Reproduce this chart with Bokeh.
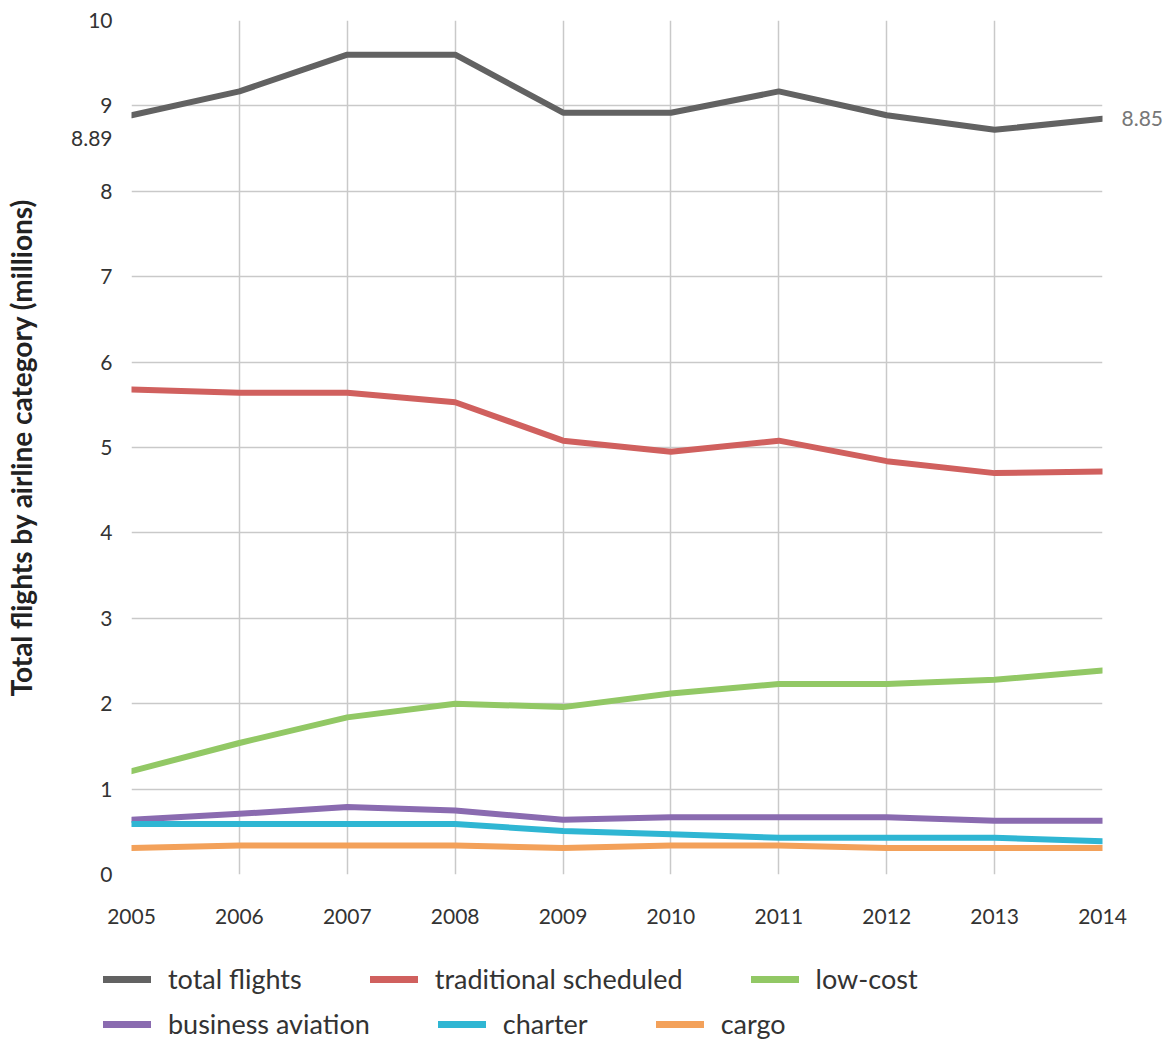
from bokeh.plotting import figure
from bokeh.models import Range1d, FixedTicker, Legend, LegendItem, LinearAxis
from bokeh.layouts import column
from bokeh.embed import file_html
from bokeh.resources import INLINE

years = [2005, 2006, 2007, 2008, 2009, 2010, 2011, 2012, 2013, 2014]
total_flights = [8.89, 9.17, 9.60, 9.60, 8.92, 8.92, 9.17, 8.89, 8.72, 8.85]
traditional = [5.68, 5.64, 5.64, 5.53, 5.08, 4.95, 5.08, 4.84, 4.70, 4.72]
low_cost = [1.21, 1.54, 1.84, 2.00, 1.96, 2.12, 2.23, 2.23, 2.28, 2.39]
business = [0.64, 0.71, 0.79, 0.75, 0.64, 0.67, 0.67, 0.67, 0.63, 0.63]
charter = [0.59, 0.59, 0.59, 0.59, 0.51, 0.47, 0.43, 0.43, 0.43, 0.39]
cargo = [0.31, 0.34, 0.34, 0.34, 0.31, 0.34, 0.34, 0.31, 0.31, 0.31]
y_ticks = [0, 1, 2, 3, 4, 5, 6, 7, 8, 9, 10]

series = [
    ("total flights", total_flights, "#626262"),
    ("traditional scheduled", traditional, "#d0605e"),
    ("low-cost", low_cost, "#92c865"),
    ("business aviation", business, "#8a6bb0"),
    ("charter", charter, "#2fb6d3"),
    ("cargo", cargo, "#f3a15a"),
]

FONT = "Lato"

p = figure(width=1173, height=935, output_backend="svg", toolbar_location=None,
           x_range=Range1d(2005, 2014), y_range=Range1d(0, 10),
           min_border_left=131, min_border_right=71, min_border_top=20,
           min_border_bottom=61)
p.outline_line_color = None
p.background_fill_color = "white"
p.border_fill_color = "white"

for ax in (p.xaxis[0], p.yaxis[0]):
    ax.axis_line_color = None
    ax.major_tick_line_color = None
    ax.minor_tick_line_color = None
    ax.major_label_text_font = FONT
    ax.major_label_text_font_size = "21px"
    ax.major_label_text_color = "#333333"

# start-value label of the total series sits just under the "9" tick
start_label_pos = total_flights[0] - 0.27
p.xaxis.ticker = FixedTicker(ticks=years)
p.yaxis.ticker = FixedTicker(ticks=y_ticks + [start_label_pos])
p.yaxis.major_label_overrides = {start_label_pos: f"{total_flights[0]:.2f}"}
p.xgrid.ticker = FixedTicker(ticks=years)
p.ygrid.ticker = FixedTicker(ticks=y_ticks)
p.xaxis.major_label_standoff = 28
p.yaxis.major_label_standoff = 13

p.yaxis.axis_label = "Total flights by airline category (millions)"
p.yaxis.axis_label_text_font = FONT
p.yaxis.axis_label_text_font_style = "bold"
p.yaxis.axis_label_text_font_size = "28px"
p.yaxis.axis_label_text_color = "#222222"
p.yaxis.axis_label_standoff = 30

# end-value label on the right
right_ax = LinearAxis(ticker=FixedTicker(ticks=[total_flights[-1]]),
                      major_label_overrides={total_flights[-1]: f"{total_flights[-1]:.2f}"})
right_ax.axis_line_color = None
right_ax.major_tick_line_color = None
right_ax.minor_tick_line_color = None
right_ax.major_label_text_font = FONT
right_ax.major_label_text_font_size = "21px"
right_ax.major_label_text_color = "#777777"
right_ax.major_label_standoff = 13
p.add_layout(right_ax, "right")

p.xgrid.grid_line_color = "#c9c9c9"
p.ygrid.grid_line_color = "#c9c9c9"
p.xgrid.grid_line_width = 1.5
p.ygrid.grid_line_width = 1.5

for name, vals, col in series:
    p.line(years, vals, line_color=col, line_width=6, line_join="round", line_cap="round")

# legend strip below the chart (its lines lie outside its ranges; only swatches show)
leg = figure(width=1173, height=113, output_backend="svg", toolbar_location=None,
             x_range=Range1d(0, 1), y_range=Range1d(0, 1),
             x_axis_location=None, y_axis_location=None,
             min_border_left=0, min_border_right=0, min_border_top=0, min_border_bottom=0)
leg.frame_align = False
leg.outline_line_color = None
leg.xgrid.visible = False
leg.ygrid.visible = False
leg.background_fill_color = "white"
leg.border_fill_color = "white"

leg_renderers = []
for name, vals, col in series:
    r = leg.line(years, vals, line_color=col, line_width=7, line_cap="round")
    leg_renderers.append((name, r))

rows = [(leg_renderers[:3], (103, 53)), (leg_renderers[3:], (103, 8))]
for items, loc in rows:
    lg = Legend(items=[LegendItem(label=n, renderers=[r]) for n, r in items],
                orientation="horizontal", location=loc,
                background_fill_alpha=0, border_line_color=None,
                padding=0, margin=0, spacing=68, label_standoff=17,
                glyph_width=48, glyph_height=20, label_height=20,
                label_text_font=FONT, label_text_font_size="27px",
                label_text_color="#333333")
    leg.add_layout(lg, "center")

open("out.html", "w").write(file_html(column(p, leg, spacing=0), INLINE))
